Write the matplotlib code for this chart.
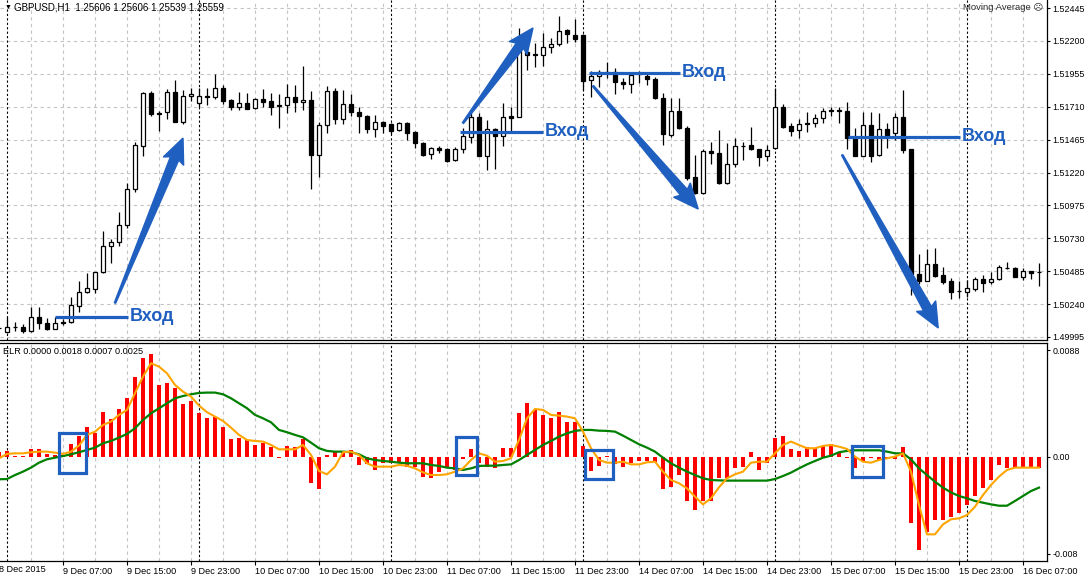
import numpy as np
import matplotlib
matplotlib.use('Agg')
import matplotlib.pyplot as plt
from matplotlib.patches import Polygon, Rectangle
from matplotlib.transforms import IdentityTransform

plt.rcParams['font.family'] = ['Liberation Sans', 'DejaVu Sans']

# бары H1: индекс -1 = 8 Dec 23:00, 0 = 9 Dec 00:00 ... 129 = 16 Dec 09:00
bars = list(range(-1, 130))

opens = [1.50059, 1.50034, 1.50069, 1.50067, 1.50042, 1.50141, 1.50097, 1.50057, 1.50106, 1.50104,
         1.50228, 1.50332, 1.50355, 1.50476, 1.50672, 1.50700, 1.50826, 1.51095, 1.51420, 1.51810,
         1.51663, 1.51668, 1.51817, 1.51599, 1.51790, 1.51740, 1.51790, 1.51780, 1.51847, 1.51760,
         1.51710, 1.51735, 1.51698, 1.51765, 1.51750, 1.51720, 1.51720, 1.51780, 1.51743, 1.51760,
         1.51353, 1.51571, 1.51830, 1.51616, 1.51728, 1.51673, 1.51641, 1.51542, 1.51599, 1.51579,
         1.51534, 1.51586, 1.51519, 1.51437, 1.51355, 1.51405, 1.51393, 1.51316, 1.51398, 1.51487,
         1.51631, 1.51345, 1.51542, 1.51490, 1.51641, 1.51636, 1.52120, 1.52100, 1.52095, 1.52152,
         1.52175, 1.52282, 1.52244, 1.52244, 1.51907, 1.51939, 1.51971, 1.51971, 1.51897, 1.51879,
         1.51956, 1.51939, 1.51914, 1.51772, 1.51497, 1.51678, 1.51549, 1.51184, 1.51065, 1.51383,
         1.51363, 1.51139, 1.51281, 1.51417, 1.51422, 1.51393, 1.51343, 1.51400, 1.51706, 1.51566,
         1.51537, 1.51591, 1.51586, 1.51624, 1.51686, 1.51686, 1.51678, 1.51475, 1.51345, 1.51574,
         1.51350, 1.51542, 1.51512, 1.51631, 1.51395, 1.50462, 1.50414, 1.50536, 1.50457, 1.50412,
         1.50337, 1.50332, 1.50355, 1.50424, 1.50407, 1.50424, 1.50511, 1.50511, 1.50444, 1.50484,
         1.50479]
highs = [1.50069, 1.50141, 1.50109, 1.50089, 1.50221, 1.50221, 1.50134, 1.50141, 1.50126, 1.50290,
         1.50412, 1.50474, 1.50481, 1.50784, 1.50722, 1.50923, 1.51144, 1.51445, 1.51817, 1.51827,
         1.51678, 1.51840, 1.51909, 1.51835, 1.51847, 1.51847, 1.51847, 1.51954, 1.51872, 1.51765,
         1.51817, 1.51810, 1.51772, 1.51840, 1.51810, 1.51805, 1.51879, 1.51872, 1.52013, 1.51827,
         1.51599, 1.51864, 1.51847, 1.51835, 1.51805, 1.51710, 1.51648, 1.51648, 1.51606, 1.51591,
         1.51596, 1.51596, 1.51532, 1.51450, 1.51413, 1.51420, 1.51400, 1.51413, 1.51549, 1.51661,
         1.51661, 1.51611, 1.51549, 1.51735, 1.51706, 1.52294, 1.52269, 1.52182, 1.52257, 1.52224,
         1.52386, 1.52292, 1.52361, 1.52252, 1.51979, 1.51984, 1.52041, 1.51996, 1.51922, 1.51971,
         1.51976, 1.51959, 1.51934, 1.51810, 1.51772, 1.51772, 1.51569, 1.51350, 1.51393, 1.51450,
         1.51537, 1.51437, 1.51475, 1.51450, 1.51562, 1.51395, 1.51425, 1.51847, 1.51730, 1.51591,
         1.51616, 1.51673, 1.51656, 1.51698, 1.51706, 1.51706, 1.51743, 1.51549, 1.51673, 1.51673,
         1.51661, 1.51586, 1.51666, 1.51835, 1.51395, 1.50613, 1.50648, 1.50655, 1.50514, 1.50432,
         1.50412, 1.50419, 1.50444, 1.50457, 1.50481, 1.50531, 1.50556, 1.50519, 1.50506, 1.50489,
         1.50543]
lows = [1.50049, 1.50022, 1.50042, 1.50027, 1.50034, 1.50052, 1.50047, 1.50052, 1.50084, 1.50097,
        1.50183, 1.50320, 1.50320, 1.50469, 1.50543, 1.50672, 1.50804, 1.51077, 1.51345, 1.51641,
        1.51532, 1.51616, 1.51594, 1.51581, 1.51755, 1.51706, 1.51723, 1.51765, 1.51730, 1.51686,
        1.51686, 1.51694, 1.51691, 1.51710, 1.51648, 1.51549, 1.51666, 1.51673, 1.51686, 1.51095,
        1.51189, 1.51512, 1.51579, 1.51579, 1.51641, 1.51517, 1.51517, 1.51487, 1.51517, 1.51507,
        1.51529, 1.51462, 1.51400, 1.51343, 1.51321, 1.51368, 1.51301, 1.51308, 1.51368, 1.51437,
        1.51343, 1.51239, 1.51244, 1.51417, 1.51524, 1.51631, 1.51984, 1.52008, 1.52013, 1.52108,
        1.52165, 1.52187, 1.52195, 1.51835, 1.51785, 1.51855, 1.51922, 1.51802, 1.51842, 1.51810,
        1.51889, 1.51872, 1.51765, 1.51425, 1.51487, 1.51542, 1.51164, 1.51060, 1.51060, 1.51283,
        1.51134, 1.51132, 1.51264, 1.51313, 1.51390, 1.51271, 1.51308, 1.51395, 1.51549, 1.51494,
        1.51477, 1.51524, 1.51557, 1.51591, 1.51643, 1.51586, 1.51395, 1.51343, 1.51343, 1.51301,
        1.51343, 1.51400, 1.51462, 1.51363, 1.50308, 1.50390, 1.50412, 1.50444, 1.50390, 1.50275,
        1.50283, 1.50295, 1.50340, 1.50332, 1.50390, 1.50419, 1.50499, 1.50439, 1.50419, 1.50424,
        1.50377]
closes = [1.50064, 1.50072, 1.50072, 1.50042, 1.50141, 1.50097, 1.50057, 1.50097, 1.50101, 1.50231,
          1.50327, 1.50357, 1.50476, 1.50672, 1.50700, 1.50829, 1.51095, 1.51422, 1.51810, 1.51653,
          1.51656, 1.51817, 1.51599, 1.51790, 1.51805, 1.51790, 1.51780, 1.51847, 1.51755, 1.51710,
          1.51735, 1.51696, 1.51765, 1.51748, 1.51706, 1.51715, 1.51780, 1.51743, 1.51758, 1.51350,
          1.51571, 1.51830, 1.51616, 1.51728, 1.51673, 1.51641, 1.51542, 1.51599, 1.51566, 1.51532,
          1.51586, 1.51512, 1.51437, 1.51353, 1.51405, 1.51390, 1.51308, 1.51393, 1.51492, 1.51631,
          1.51345, 1.51542, 1.51490, 1.51631, 1.51628, 1.52132, 1.52095, 1.52093, 1.52152, 1.52175,
          1.52277, 1.52249, 1.52217, 1.51904, 1.51939, 1.51971, 1.51961, 1.51892, 1.51879, 1.51944,
          1.51959, 1.51914, 1.51772, 1.51504, 1.51678, 1.51549, 1.51177, 1.51065, 1.51383, 1.51363,
          1.51139, 1.51281, 1.51417, 1.51420, 1.51393, 1.51338, 1.51388, 1.51706, 1.51561, 1.51532,
          1.51581, 1.51579, 1.51624, 1.51678, 1.51676, 1.51676, 1.51480, 1.51345, 1.51574, 1.51345,
          1.51542, 1.51499, 1.51636, 1.51388, 1.50462, 1.50412, 1.50536, 1.50449, 1.50407, 1.50327,
          1.50335, 1.50357, 1.50429, 1.50394, 1.50424, 1.50514, 1.50509, 1.50444, 1.50484, 1.50474,
          1.50476]

# индикатор ELR, в единицах 0.0001
elr_hist = [3.9, 5.0, 1.0, 1.1, 6.6, 6.6, 2.5, 1.7, 2.0, 10.7,
            17.6, 25.0, 19.5, 37.1, 31.4, 39.6, 49.0, 65.7, 82.0, 85.0,
            59.4, 60.8, 56.7, 43.7, 46.2, 36.3, 32.2, 33.3, 24.8, 14.9,
            15.4, 14.0, 9.9, 11.8, 8.5, -0.6, 8.8, 8.5, 14.9, -21.2,
            -26.7, 1.7, 4.4, 4.4, 5.8, -6.6, -6.1, -10.7, -5.2, -5.2,
            -4.4, -8.0, -8.0, -16.2, -17.1, -12.1, -8.8, -10.7, -1.7, 6.6,
            -5.2, -8.0, -9.4, 7.2, 7.2, 36.0, 44.3, 38.8, 34.7, 31.9,
            37.4, 28.6, 29.2, 9.1, -11.6, -7.2, 1.1, -5.8, -8.0, -5.2,
            -3.3, -3.3, -3.9, -26.4, -24.5, -14.9, -36.0, -43.7, -36.3, -36.0,
            -17.6, -17.6, -9.4, -8.0, 4.4, -10.7, -5.2, 15.4, 17.3, 6.3,
            5.0, 8.5, 7.7, 9.4, 10.5, 4.4, -0.6, -9.4, -3.3, -0.6,
            -2.5, -1.7, -1.7, 8.5, -54.2, -76.7, -62.0, -52.0, -52.0, -49.2,
            -45.9, -39.6, -31.9, -25.9, -19.0, -6.6, -8.8, -8.8, -8.8, -8.8,
            -8.8]
elr_fast = [-1.1, 2.5, 3.0, 3.0, 3.9, 4.4, 4.4, 3.6, 2.5, 4.4,
            9.4, 18.2, 20.9, 26.4, 29.2, 34.7, 38.8, 52.5, 66.3, 77.3,
            74.5, 69.0, 59.4, 53.9, 49.8, 42.4, 36.9, 33.3, 29.7, 24.2,
            18.2, 14.0, 13.2, 12.7, 9.9, 6.3, 6.3, 6.3, 9.9, 1.7,
            -11.6, -14.3, -8.0, 3.9, 4.4, 1.6, -5.2, -8.0, -8.0, -8.0,
            -6.6, -7.2, -9.4, -12.7, -14.9, -14.9, -14.3, -12.1, -9.4, -2.5,
            3.0, 1.1, -3.9, -3.3, -1.1, 14.0, 31.9, 39.6, 38.8, 34.7,
            34.1, 33.3, 31.9, 20.9, 7.2, -2.5, -4.7, -4.7, -3.9, -6.1,
            -6.1, -4.4, -3.9, -12.1, -19.0, -21.7, -25.9, -32.7, -39.1, -34.1,
            -25.0, -17.6, -14.3, -12.1, -4.7, -3.9, -3.9, 3.0, 9.9, 12.7,
            9.9, 7.2, 7.2, 9.1, 9.9, 8.5, 6.6, 0.3, -3.9, -4.7,
            -2.5, -1.1, 0.3, 3.0, -12.1, -39.6, -63.8, -63.8, -55.6, -51.4,
            -50.6, -47.9, -41.0, -31.4, -23.1, -16.2, -10.7, -8.8, -8.8, -8.8,
            -8.8]
elr_slow = [-18.4, -18.2, -14.9, -12.1, -8.8, -4.7, -1.9, -0.6, 0.8, 2.2,
            3.9, 5.8, 7.7, 11.3, 13.2, 16.0, 19.0, 23.7, 30.5, 36.0,
            40.2, 44.3, 48.4, 50.3, 51.7, 52.8, 53.1, 53.1, 51.7, 48.4,
            44.3, 40.2, 34.7, 31.9, 28.6, 22.3, 20.4, 18.2, 16.2, 11.8,
            7.2, 5.0, 4.4, 4.4, 3.9, 2.2, -1.1, -2.5, -3.3, -3.9,
            -4.7, -5.2, -5.2, -5.2, -6.6, -7.4, -8.8, -9.4, -10.7, -9.4,
            -7.4, -7.2, -7.2, -6.6, -6.1, -2.5, 1.7, 5.8, 9.9, 13.2,
            16.8, 19.5, 21.5, 22.3, 22.3, 21.7, 21.5, 20.9, 17.6, 14.0,
            10.5, 7.7, 4.4, -0.6, -5.2, -8.8, -12.1, -14.9, -17.6, -19.0,
            -19.3, -19.5, -19.5, -19.5, -19.5, -19.5, -19.5, -18.2, -15.7, -12.9,
            -9.4, -6.1, -3.3, -0.6, 1.1, 3.9, 5.0, 5.5, 5.5, 5.5,
            5.5, 4.4, 3.0, 3.0, -2.0, -9.4, -14.9, -20.4, -25.3, -29.2,
            -32.2, -34.1, -36.3, -37.7, -39.1, -40.2, -40.2, -36.3, -32.2, -28.1,
            -25.3]

price_ticks = [1.52445, 1.52200, 1.51955, 1.51710, 1.51465, 1.51220,
               1.50975, 1.50730, 1.50485, 1.50240, 1.49995]
elr_ticks = [0.0088, 0.0, -0.008]
elr_tick_labels = ['0.0088', '0.00', '-0.008']
time_labels = ['8 Dec 2015', '9 Dec 07:00', '9 Dec 15:00', '9 Dec 23:00',
               '10 Dec 07:00', '10 Dec 15:00', '10 Dec 23:00', '11 Dec 07:00',
               '11 Dec 15:00', '11 Dec 23:00', '14 Dec 07:00', '14 Dec 15:00',
               '14 Dec 23:00', '15 Dec 07:00', '15 Dec 15:00', '15 Dec 23:00',
               '16 Dec 07:00']
time_label_bars = list(range(-1, 128, 8))
day_starts = [0, 24, 48, 72, 96, 120]

# разметка "Вход": (начало, конец, цена), стрелки (хвост, острие), рамки на индикаторе
entries = [(6.0, 15.1, 1.50144), (56.6, 67.0, 1.51522),
           (72.75, 84.1, 1.51962), (105.1, 119.1, 1.51485)]
arrows = [((13.5, 1.50248), (22.0, 1.51477)), ((57.0, 1.51589), (65.75, 1.52297)),
          ((73.25, 1.51865), (86.4, 1.50948)), ((104.4, 1.51351), (116.4, 1.50062))]
boxes = [(6.5, 9.9, -13.2e-4, 19.8e-4), (56.1, 58.75, -14.9e-4, 16.5e-4),
         (72.25, 75.75, -18.2e-4, 5.8e-4), (105.6, 109.5, -16.5e-4, 9.1e-4)]

BLUE = '#1f5fc0'
GRID = '#c4c4c4'
FS = 6.4

W, H = 1085, 579
fig = plt.figure(figsize=(W / 100, H / 100), dpi=100)
fig.patch.set_facecolor('white')
ax1 = fig.add_axes([0, 1 - 340 / H, 1047 / W, 340 / H])
ax2 = fig.add_axes([0, 1 - 561 / H, 1047 / W, 218 / H])

x = np.array(bars)
o = np.array(opens)
c = np.array(closes)
up = c >= o

xlim = (-0.875, 130)
for ax in (ax1, ax2):
    ax.set_xlim(*xlim)
    ax.spines['left'].set_visible(False)
    ax.spines['right'].set_color('black')
    ax.spines['bottom'].set_color('black')
    ax.spines['right'].set_linewidth(0.9)
    ax.spines['bottom'].set_linewidth(0.9)
    for b in range(3, 131, 4):
        ax.axvline(b, color=GRID, lw=0.8, ls=(0, (3, 3)), zorder=0)
    for b in day_starts:
        ax.axvline(b, color='black', lw=0.8, ls=(0, (2, 2)), zorder=1)
    ax.yaxis.tick_right()
    ax.tick_params(axis='y', direction='out', length=2.5, width=0.8, pad=1.5,
                   labelsize=FS, colors='black')

ax1.spines['top'].set_visible(False)
ax2.spines['top'].set_color('black')
ax2.spines['top'].set_linewidth(0.9)

# цены
ax1.set_ylim(1.499724, 1.525054)
for p in price_ticks:
    ax1.axhline(p, color=GRID, lw=0.8, ls=(0, (3, 3)), zorder=0)
ax1.vlines(x, lows, highs, color='black', lw=0.9, zorder=3)
ax1.bar(x[up], (c - o)[up], bottom=o[up], width=0.6, color='white',
        edgecolor='black', lw=0.9, zorder=4)
ax1.bar(x[~up], (o - c)[~up], bottom=c[~up], width=0.6, color='black',
        edgecolor='black', lw=0.9, zorder=4)
ax1.set_xticks([])
ax1.set_yticks(price_ticks)
ax1.set_yticklabels(['%.5f' % p for p in price_ticks])

# индикатор
ax2.set_ylim(-0.00858, 0.0094)
ax2.bar(x, np.array(elr_hist) * 1e-4, width=0.38, color='#ff0000', zorder=2)
ax2.plot(x, np.array(elr_slow) * 1e-4, color='#008000', lw=1.6, zorder=3)
ax2.plot(x, np.array(elr_fast) * 1e-4, color='#ffa500', lw=1.5, zorder=4)
ax2.set_yticks(elr_ticks)
ax2.set_yticklabels(elr_tick_labels)
ax2.set_xticks(time_label_bars[1:])
ax2.set_xticklabels(time_labels[1:], ha='left')
ax2.tick_params(axis='x', direction='out', length=3, width=0.8, pad=1.5,
                labelsize=6.6, colors='black')
# первая подпись лежит левее края окна
ax2.text(time_label_bars[0], -4.5 / 218, time_labels[0], fontsize=6.6,
         ha='left', va='top', clip_on=False, transform=ax2.get_xaxis_transform())


def tapered_arrow(ax, tail, tip):
    p0 = ax.transData.transform(tail)
    p1 = ax.transData.transform(tip)
    d = p1 - p0
    u = d / np.hypot(*d)
    n = np.array([-u[1], u[0]])
    base = p1 - u * 22
    pts = [p0 + n * 0.7, base + n * 4.5, base - u * 3 + n * 11, p1,
           base - u * 3 - n * 11, base - n * 4.5, p0 - n * 0.7]
    ax.add_patch(Polygon(pts, closed=True, color=BLUE,
                         transform=IdentityTransform(), zorder=6))


for x0, x1, p in entries:
    ax1.plot([x0, x1], [p, p], color=BLUE, lw=2.3, zorder=6, solid_capstyle='butt')
    ax1.text(x1 + 0.2, p, 'Вход', color=BLUE, fontsize=13, fontweight='bold',
             ha='left', va='center', zorder=7)
for tail, tip in arrows:
    tapered_arrow(ax1, tail, tip)
for b0, b1, v0, v1 in boxes:
    ax2.add_patch(Rectangle((b0, v0), b1 - b0, v1 - v0, fill=False,
                            edgecolor=BLUE, lw=2.3, zorder=6))

# подписи окна
fig.text(5 / W, 1 - 7 / H, '▼', fontsize=5, ha='left', va='center')
fig.text(14 / W, 1 - 7 / H, 'GBPUSD,H1  1.25606 1.25606 1.25539 1.25559',
         fontsize=7, ha='left', va='center')
fig.text(1043 / W, 1 - 8 / H, 'Moving Average ☹', fontsize=6.8, color='#303030',
         ha='right', va='center')
fig.text(3 / W, 1 - 351 / H, 'ELR 0.0000 0.0018 0.0007 0.0025',
         fontsize=6.6, ha='left', va='center')

fig.savefig('out.png', dpi=100, facecolor='white')
